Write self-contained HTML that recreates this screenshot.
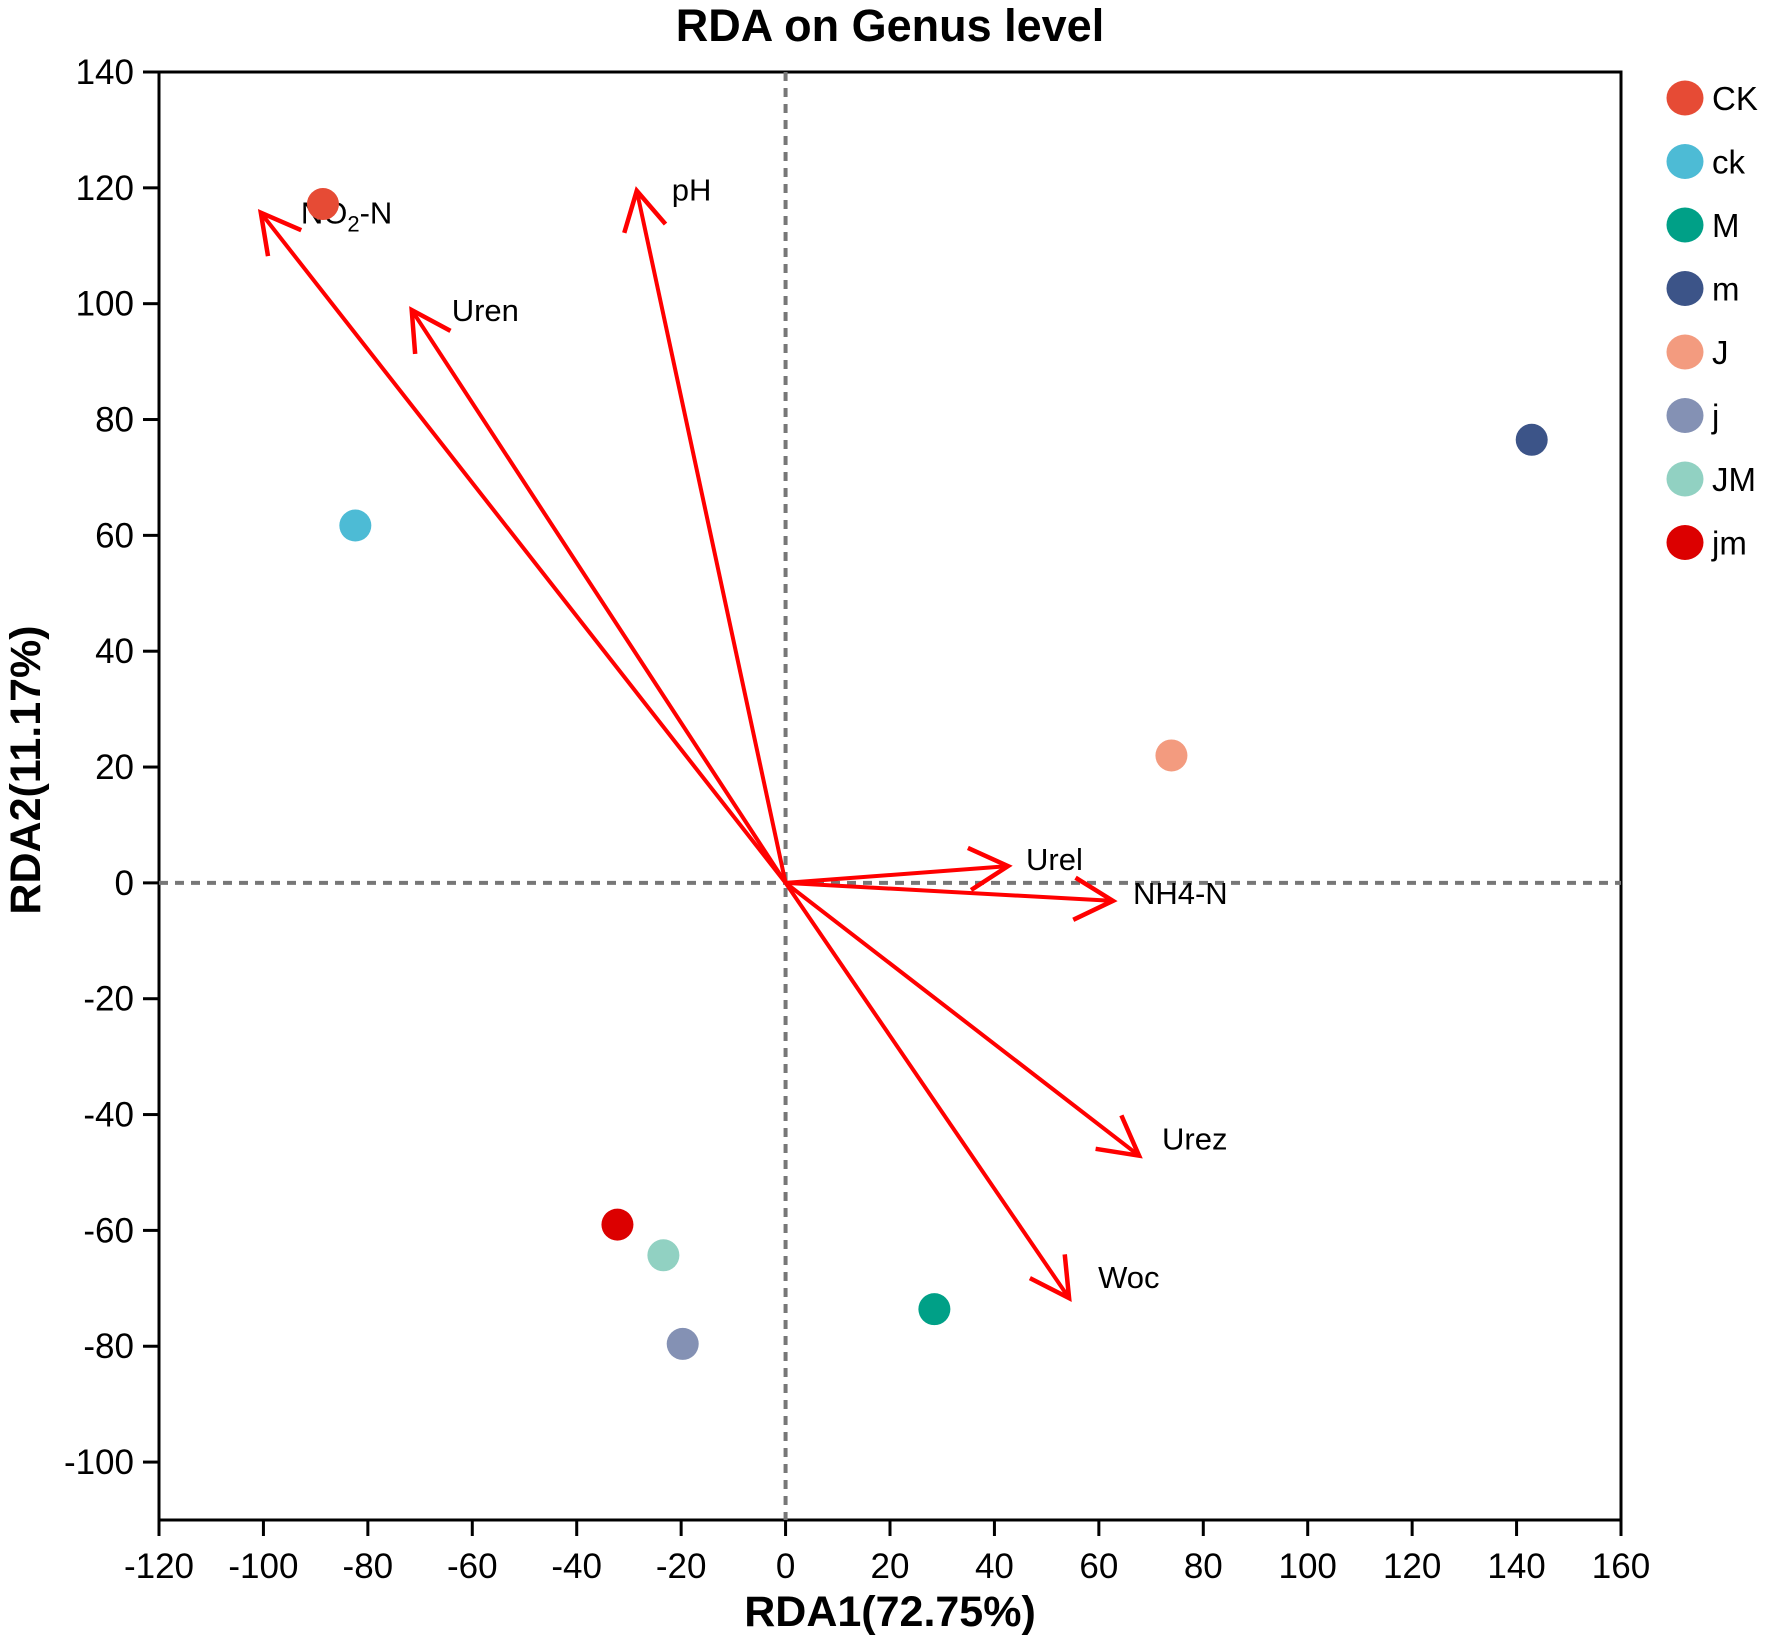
<!DOCTYPE html>
<html><head><meta charset="utf-8"><style>
html,body{margin:0;padding:0;background:#fff}
svg{display:block;font-family:"Liberation Sans",Arial,sans-serif}
</style></head><body>
<svg id="chart" width="1772" height="1636" viewBox="0 0 1772 1636">
<text x="890" y="41" text-anchor="middle" font-size="45" font-weight="bold">RDA on Genus level</text>
<g id="axes"></g>
<g id="arrows"></g>
<g id="points"></g>
<g id="legend"></g>
<text x="890" y="1626" text-anchor="middle" font-size="43" font-weight="bold">RDA1(72.75%)</text>
<text transform="translate(40,770) rotate(-90)" text-anchor="middle" font-size="43" font-weight="bold">RDA2(11.17%)</text>
</svg>
<script>
const sampleNames = ["CK","ck","M","m","J","j","JM","jm"];
const sampleX = [-88.6,-82.4,28.5,142.9,73.9,-19.7,-23.4,-32.2];
const sampleY = [117.2,61.7,-73.6,76.5,22,-79.6,-64.3,-59];
const sampleColors = ["#e64b35","#4dbbd5","#00a087","#3c5488","#f39b7f","#8491b4","#91d1c2","#dc0000"];
const envNames = ["NO2-N","Uren","pH","Urel","NH4-N","Urez","Woc"];
const envX = [-100.5,-71.6,-28.5,42.6,62.7,67.7,54.3];
const envY = [115.7,98.9,119.5,2.9,-3.1,-47.1,-71.7];
const xTicks = [-120,-100,-80,-60,-40,-20,0,20,40,60,80,100,120,140,160];
const yTicks = [140,120,100,80,60,40,20,0,-20,-40,-60,-80,-100];

const L=159,R=1621,T=72,B=1520,xmin=-120,xmax=160,ymin=-110,ymax=140;
const sx=v=>L+(v-xmin)/(xmax-xmin)*(R-L);
const sy=v=>B-(v-ymin)/(ymax-ymin)*(B-T);
const NS="http://www.w3.org/2000/svg";
function mk(tag,attrs,parent){const e=document.createElementNS(NS,tag);for(const k in attrs)e.setAttribute(k,attrs[k]);parent.appendChild(e);return e;}
const axes=document.getElementById('axes');
let e;
e=mk('rect',{x:L,y:T,width:R-L,height:B-T,fill:'none',stroke:'#000','stroke-width':3},axes);


e=mk('line',{x1:sx(0),x2:sx(0),y1:T,y2:B,stroke:'#777','stroke-width':4,'stroke-dasharray':'9 7'},axes);


e=mk('line',{x1:L,x2:R,y1:sy(0),y2:sy(0),stroke:'#777','stroke-width':4,'stroke-dasharray':'9 7'},axes);


xTicks.forEach(v=>{
  const x=sx(v);
  e=mk('line',{x1:x,x2:x,y1:B,y2:B+16,stroke:'#000','stroke-width':3},axes);
  
  
  e=mk('text',{x:x,y:1578,'text-anchor':'middle','font-size':35},axes);
  e.textContent=v;
  
  
});
yTicks.forEach(v=>{
  const y=sy(v);
  e=mk('line',{x1:L-16,x2:L,y1:y,y2:y,stroke:'#000','stroke-width':3},axes);
  
  
  e=mk('text',{x:134,y:y+12,'text-anchor':'end','font-size':35},axes);
  e.textContent=v;
  
  
});
const arrows=document.getElementById('arrows');
const lblDx={"NO2-N":40,"Uren":40,"pH":35,"Urel":18,"NH4-N":20,"Urez":23,"Woc":29};
const lblDy={"NO2-N":11,"Uren":11,"pH":10,"Urel":4,"NH4-N":3,"Urez":-6,"Woc":-10};
envNames.forEach((n,i)=>{
  const x0=sx(0),y0=sy(0),x1=sx(envX[i]),y1=sy(envY[i]);
  const g=mk('g',{},arrows);
  
  
  mk('line',{x1:x0,y1:y0,x2:x1,y2:y1,stroke:'#ff0000','stroke-width':4},g);
  const a=Math.atan2(y1-y0,x1-x0),h=44,sp=0.5;
  const p1=[x1-h*Math.cos(a-sp),y1-h*Math.sin(a-sp)],p2=[x1-h*Math.cos(a+sp),y1-h*Math.sin(a+sp)];
  mk('polyline',{points:`${p1} ${x1},${y1} ${p2}`,fill:'none',stroke:'#ff0000','stroke-width':4.5},g);
  const t=mk('text',{x:x1+lblDx[n],y:y1+lblDy[n],'font-size':31},g);
  if(n==='NO2-N'){t.innerHTML='NO<tspan font-size="22" dy="8">2</tspan><tspan dy="-8">-N</tspan>';}
  else t.textContent=n;
  
  
});
const pts=document.getElementById('points');
sampleNames.forEach((n,i)=>{
  e=mk('circle',{cx:sx(sampleX[i]),cy:sy(sampleY[i]),r:16,fill:sampleColors[i]},pts);
  
  
});
const lg=document.getElementById('legend');
sampleNames.forEach((n,i)=>{
  const y=98+i*63.5;
  const g=mk('g',{},lg);
  
  
  mk('ellipse',{cx:1685,cy:y,rx:18.5,ry:17.5,fill:sampleColors[i]},g);
  const t=mk('text',{x:1712,y:y+12,'font-size':33},g);
  t.textContent=n;
});
</script>
</body></html>
